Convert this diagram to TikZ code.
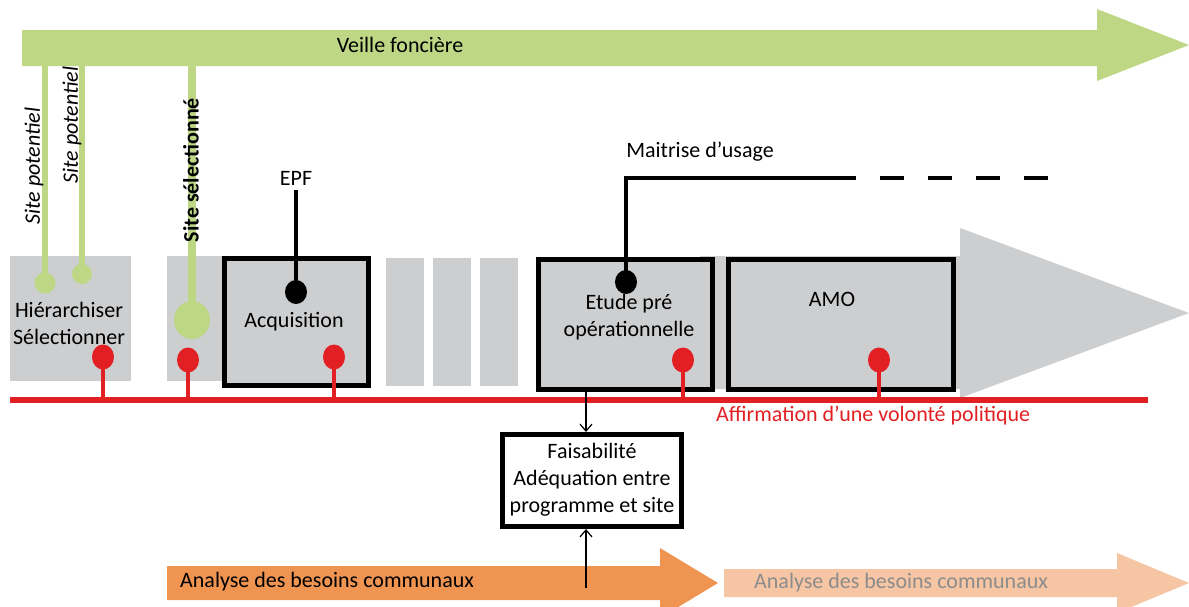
\documentclass[tikz,border=0pt]{standalone}
\usepackage{fontspec}
\setmainfont{Carlito}
\usetikzlibrary{arrows.meta}
\definecolor{vgreen}{RGB}{189,215,133}
\definecolor{vgrey}{RGB}{205,206,208}
\definecolor{vred}{RGB}{226,32,36}
\definecolor{vorange}{RGB}{240,148,82}
\definecolor{vlorange}{RGB}{246,197,163}
\definecolor{vtextgrey}{RGB}{140,140,140}
\begin{document}
\begin{tikzpicture}[x=1pt,y=-1pt,
  every node/.style={font=\fontsize{22}{27}\selectfont, inner sep=0pt, align=center},
  stagebox/.style={draw=black, line width=5pt, fill=vgrey},
  greybar/.style={fill=vgrey},
  redline/.style={draw=vred, line width=4pt},
  reddot/.style={fill=vred},
  greenline/.style={draw=vgreen, line width=6pt},
  blackline/.style={draw=black, line width=4.5pt},
  thinarrow/.style={draw=black, line width=1.2pt, -{Straight Barb[length=7pt,width=12pt]}}]
\useasboundingbox (0,0) rectangle (1189,606);

% green arrow
\fill[vgreen] (22,30) -- (1097,30) -- (1097,9) -- (1189,45) -- (1097,81) -- (1097,66) -- (22,66) -- cycle;
\node (veille) at (400,45) {Veille foncière};

% grey arrow
\fill[vgrey] (700,256) -- (960,256) -- (960,228) -- (1189,313) -- (960,398) -- (960,389) -- (700,389) -- cycle;

% grey bars
\fill[greybar] (10,256) rectangle (131,381);
\fill[greybar] (167,256) rectangle (226,381);
\fill[greybar] (386,258) rectangle (424,386);
\fill[greybar] (433,258) rectangle (471,386);
\fill[greybar] (480,258) rectangle (518,386);

\node (hier) at (69,323) {Hiérarchiser\\Sélectionner};

% stage boxes
\node[stagebox, minimum width=144pt, minimum height=127pt] (acq) at (296.5,322) {};
\node (acqt) at (294,322) {Acquisition};
\node[stagebox, minimum width=174pt, minimum height=130pt] (etude) at (625.5,324.5) {};
\node (etudet) at (629,317) {Etude pré\\opérationnelle};
\node[stagebox, minimum width=225pt, minimum height=130pt] (amo) at (841,324.5) {};
\node (amot) at (832,299) {AMO};

% green site lines
\coordinate (g1top) at (45,66);
\coordinate (g2top) at (82,66);
\coordinate (g3top) at (192,66);
\fill[vgreen] (45,283) circle (10.5pt) coordinate (g1);
\fill[vgreen] (82,274) circle (10pt) coordinate (g2);
\fill[vgreen] (192,320) ellipse (18pt and 19pt) coordinate (g3);
\draw[greenline] (g1top) -- (g1);
\draw[greenline] (g2top) -- (g2);
\draw[greenline, line width=8pt] (g3top) -- (g3);
\node[rotate=90, font=\fontsize{22}{27}\selectfont\itshape] (sp1) at (34,166) {Site potentiel};
\node[rotate=90, font=\fontsize{22}{27}\selectfont\itshape] (sp2) at (72,125) {Site potentiel};
\node[rotate=90, font=\fontsize{22}{27}\selectfont\bfseries] (ss) at (191,170) {Site sélectionné};

% red line and pins
\draw[vred, line width=6pt] (10,400) coordinate (r0) -- (1148,400) coordinate (r1);
\foreach \x/\y/\n in {103/357/a, 188/360/b, 334/357/c, 683/360/d, 879/360/e}{
  \coordinate (rp\n) at (\x,\y);
  \coordinate (rb\n) at (\x,400);
  \draw[redline] (rp\n) -- (rb\n);
  \fill[reddot] (rp\n) ellipse (11pt and 12.5pt);
}
\node[text=vred, anchor=west] (affirm) at (716,416) {Affirmation d’une volonté politique};

% EPF
\node (epf) at (296,178) {EPF};
\coordinate (epftop) at (296,190);
\coordinate (epfdot) at (296,292);
\draw[blackline] (epftop) -- (epfdot);
\fill[black] (epfdot) ellipse (11pt and 12pt);

% Maitrise d'usage
\node (mu) at (700,152) {Maitrise d’usage};
\coordinate (mudot) at (626,282);
\coordinate (mu1) at (856,178);
\coordinate (mu2) at (1050,178);
\draw[blackline] (mudot) |- (mu1);
\draw[blackline, dash pattern=on 24pt off 24pt, dash phase=24pt] (mu1) -- (mu2);
\fill[black] (mudot) ellipse (11pt and 12pt);

% Faisabilite
\node[draw=black, line width=5pt, fill=white, minimum width=179pt, minimum height=92pt] (fais) at (592,480.5) {};
\node (faist) at (592,480) {Faisabilité\\Adéquation entre\\programme et site};
\coordinate (etbot) at (586,390);
\draw[thinarrow] (etbot) -- (fais.north -| etbot);

% orange arrows
\fill[vorange] (167,566) -- (660,566) -- (660,548) -- (718,583) -- (660,618) -- (660,600) -- (167,600) -- cycle;
\node[anchor=west] (ana1) at (180,582) {Analyse des besoins communaux};
\fill[vlorange] (724,569) -- (1117,569) -- (1117,553) -- (1189,583) -- (1117,613) -- (1117,597) -- (724,597) -- cycle;
\node[anchor=west, text=vtextgrey] (ana2) at (754,583) {Analyse des besoins communaux};
\coordinate (orup) at (586,588);
\draw[thinarrow] (orup) -- (fais.south -| orup);
\end{tikzpicture}
\end{document}
